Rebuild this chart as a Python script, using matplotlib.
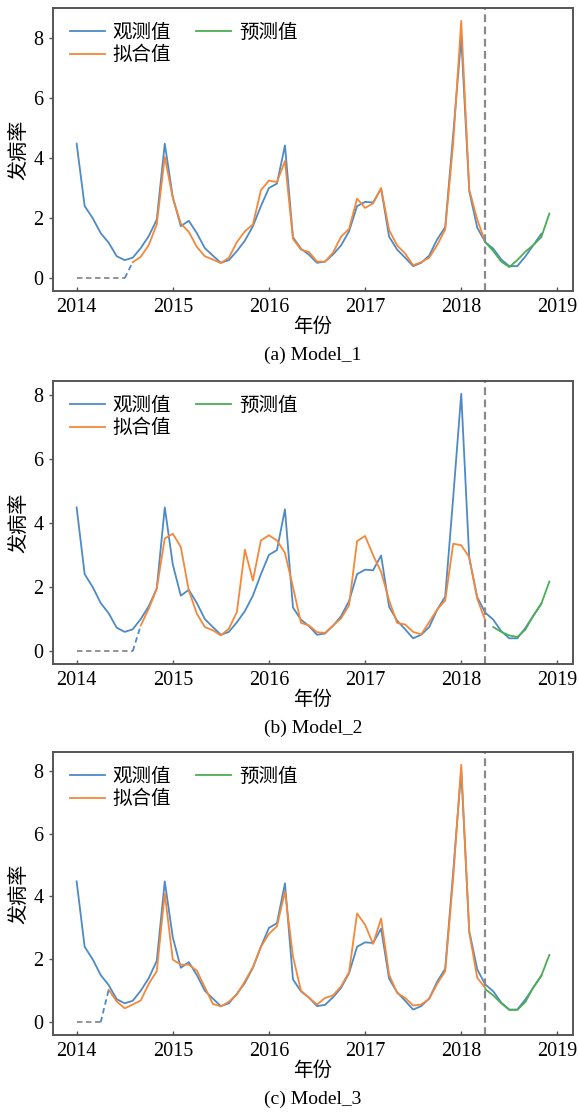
"""Observed vs fitted vs forecast incidence for three models (monthly, 2014-2018)."""

import numpy as np
import matplotlib
matplotlib.use("Agg")
import matplotlib.pyplot as plt

plt.rcParams["font.family"] = ["Liberation Serif", "Noto Sans CJK SC"]

# month index 0 = Jan 2014
months = np.arange(60)
years = 2014 + months / 12
split_month = 51  # forecast starts Apr 2018

observed = [4.48, 2.40, 2.00, 1.50, 1.18, 0.73, 0.60, 0.68, 1.00, 1.40, 1.95, 4.48,
            2.70, 1.73, 1.91, 1.50, 1.00, 0.75, 0.51, 0.60, 0.90, 1.25, 1.73, 2.40,
            3.00, 3.15, 4.42, 1.36, 0.98, 0.78, 0.51, 0.55, 0.79, 1.09, 1.56, 2.40,
            2.54, 2.52, 2.98, 1.38, 0.95, 0.68, 0.40, 0.51, 0.75, 1.29, 1.70, 4.80,
            8.02, 2.90, 1.68, 1.20, 0.98, 0.62, 0.40, 0.40, 0.72, 1.10, 1.48]

fit_1 = [0.53, 0.71, 1.10, 1.79, 4.04, 2.67, 1.82, 1.54, 1.04, 0.73, 0.62, 0.50,
         0.68, 1.20, 1.56, 1.79, 2.93, 3.25, 3.20, 3.90, 1.31, 0.95, 0.87, 0.55,
         0.55, 0.85, 1.38, 1.64, 2.65, 2.34, 2.49, 3.00, 1.60, 1.09, 0.82, 0.43,
         0.53, 0.68, 1.10, 1.62, 4.50, 8.57, 2.95, 1.95, 1.20]
fit_2 = [0.80, 1.32, 1.95, 3.51, 3.66, 3.25, 1.89, 1.17, 0.75, 0.65, 0.49, 0.70,
         1.22, 3.16, 2.20, 3.45, 3.61, 3.45, 3.06, 2.00, 0.88, 0.80, 0.59, 0.57,
         0.80, 1.02, 1.43, 3.43, 3.59, 2.99, 2.47, 1.58, 0.88, 0.83, 0.60, 0.52,
         0.90, 1.30, 1.58, 3.35, 3.30, 2.93, 1.63, 0.96]
fit_3 = [1.03, 0.66, 0.44, 0.56, 0.69, 1.22, 1.62, 4.10, 1.99, 1.83, 1.83, 1.64,
         1.11, 0.58, 0.50, 0.65, 0.88, 1.30, 1.75, 2.40, 2.81, 3.05, 4.16, 2.09,
         1.00, 0.78, 0.56, 0.77, 0.85, 1.14, 1.59, 3.46, 3.10, 2.49, 3.30, 1.51,
         0.93, 0.77, 0.53, 0.56, 0.74, 1.22, 1.62, 4.60, 8.19, 2.86, 1.41, 1.09]

pred_1 = [1.20, 0.90, 0.55, 0.37, 0.60, 0.88, 1.10, 1.37, 2.15]
pred_2 = [0.75, 0.60, 0.49, 0.44, 0.67, 1.11, 1.48, 2.17]
pred_3 = [1.05, 0.85, 0.60, 0.39, 0.39, 0.64, 1.11, 1.48, 2.14]

# first month with a fitted value, first month of forecast
fit_start = [7, 8, 4]
pred_start = [51, 52, 51]
captions = ["(a) Model_1", "(b) Model_2", "(c) Model_3"]

BLUE = "#4d8ac6"
ORANGE = "#f4883a"
GREEN = "#4cae50"
GRAY = "#8a8a8a"
SPINE = "#555555"


def draw_panel(ax, fit, pred, f0, p0, caption):
    n_obs = len(observed)
    ax.plot(years[:n_obs], observed, color=BLUE, lw=1.3, label="观测值")
    ax.plot(years[f0:f0 + len(fit)], fit, color=ORANGE, lw=1.3, label="拟合值")
    ax.plot(years[p0:p0 + len(pred)], pred, color=GREEN, lw=1.3, label="预测值")

    # months without a fitted value shown as a dashed zero line
    ax.plot(years[:f0], np.zeros(f0), color=GRAY, lw=1.3, ls=(0, (3, 2)))
    ax.plot([years[f0 - 1], years[f0]], [0, fit[0]], color=BLUE, lw=1.3,
            ls=(0, (3, 2)))

    ax.axvline(years[split_month], color=GRAY, lw=1.6, ls=(0, (3.5, 2)))

    ax.set_xticks([2014, 2015, 2016, 2017, 2018, 2019])
    ax.set_yticks([0, 2, 4, 6, 8])
    ax.tick_params(axis="x", direction="in", length=3, width=1, color=SPINE,
                   labelsize=14.5, pad=5)
    ax.tick_params(axis="y", direction="out", length=3, width=1, color=SPINE,
                   labelsize=14.5, pad=4)
    for sp in ax.spines.values():
        sp.set_color(SPINE)
        sp.set_linewidth(1.4)
    ax.set_xlabel("年份", fontsize=14, labelpad=0)
    ax.set_ylabel("发病率", fontsize=14.5, labelpad=3)

    h, l = ax.get_legend_handles_labels()
    ax.legend(h[:3], l[:3], ncol=2, loc="upper left", frameon=False,
              fontsize=14, handlelength=1.8, handletextpad=0.4,
              columnspacing=1.3, borderaxespad=0.2, labelspacing=0.2,
              bbox_to_anchor=(0.01, 0.985))

    box = ax.get_position()
    fig.text((box.x0 + box.x1) / 2, box.y0 - 0.058, caption, ha="center",
             va="center", fontsize=14)


fig = plt.figure(figsize=(5.79, 11.15), dpi=100)
tops = [8, 381, 752]
for i, (fit, pred) in enumerate(zip([fit_1, fit_2, fit_3], [pred_1, pred_2, pred_3])):
    top = 1 - tops[i] / 1115
    height = 283 / 1115
    ax = fig.add_axes([53 / 579, top - height, 520 / 579, height])
    draw_panel(ax, fit, pred, fit_start[i], pred_start[i], captions[i])

fig.savefig("out.png", dpi=100)
